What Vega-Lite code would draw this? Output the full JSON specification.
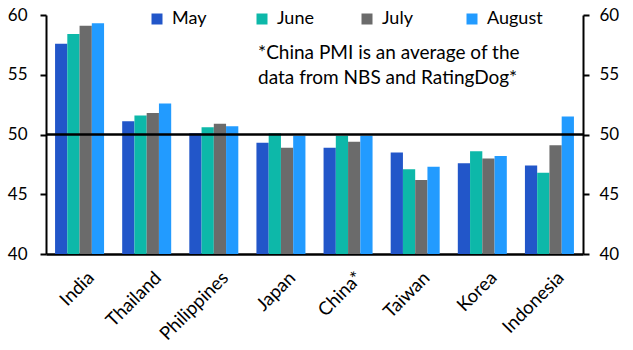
{
  "$schema": "https://vega.github.io/schema/vega-lite/v6.json",
  "width": 537,
  "height": 239,
  "autosize": {"type": "none"},
  "padding": {"left": 46, "top": 15, "right": 50, "bottom": 96},
  "background": "white",
  "config": {
    "font": "Lato",
    "view": {"stroke": null},
    "axis": {"labelFont": "Lato", "labelFontSize": 17, "labelColor": "black", "domainColor": "black", "tickColor": "black", "grid": false, "title": null}
  },
  "datasets": {
    "pmi": [
      {"country": "India", "month": "May", "value": 57.6},
      {"country": "India", "month": "June", "value": 58.4},
      {"country": "India", "month": "July", "value": 59.1},
      {"country": "India", "month": "August", "value": 59.3},
      {"country": "Thailand", "month": "May", "value": 51.1},
      {"country": "Thailand", "month": "June", "value": 51.6},
      {"country": "Thailand", "month": "July", "value": 51.8},
      {"country": "Thailand", "month": "August", "value": 52.6},
      {"country": "Philippines", "month": "May", "value": 50.1},
      {"country": "Philippines", "month": "June", "value": 50.6},
      {"country": "Philippines", "month": "July", "value": 50.9},
      {"country": "Philippines", "month": "August", "value": 50.7},
      {"country": "Japan", "month": "May", "value": 49.3},
      {"country": "Japan", "month": "June", "value": 50.1},
      {"country": "Japan", "month": "July", "value": 48.9},
      {"country": "Japan", "month": "August", "value": 49.9},
      {"country": "China*", "month": "May", "value": 48.9},
      {"country": "China*", "month": "June", "value": 49.9},
      {"country": "China*", "month": "July", "value": 49.4},
      {"country": "China*", "month": "August", "value": 49.9},
      {"country": "Taiwan", "month": "May", "value": 48.5},
      {"country": "Taiwan", "month": "June", "value": 47.1},
      {"country": "Taiwan", "month": "July", "value": 46.2},
      {"country": "Taiwan", "month": "August", "value": 47.3},
      {"country": "Korea", "month": "May", "value": 47.6},
      {"country": "Korea", "month": "June", "value": 48.6},
      {"country": "Korea", "month": "July", "value": 48.0},
      {"country": "Korea", "month": "August", "value": 48.2},
      {"country": "Indonesia", "month": "May", "value": 47.4},
      {"country": "Indonesia", "month": "June", "value": 46.8},
      {"country": "Indonesia", "month": "July", "value": 49.1},
      {"country": "Indonesia", "month": "August", "value": 51.5}
    ]
  },
  "resolve": {"axis": {"y": "independent"}},
  "layer": [
    {
      "data": {"name": "pmi"},
      "mark": {"type": "bar", "clip": true},
      "encoding": {
        "x": {
          "field": "country", "type": "nominal", "sort": null,
          "scale": {"paddingInner": 0.27, "paddingOuter": 0.135},
          "axis": {"labelAngle": -45, "ticks": false, "domainWidth": 2.5, "labelPadding": 14, "labelFontSize": 18.5, "labelOffset": 5}
        },
        "xOffset": {"field": "month", "type": "nominal", "sort": ["May", "June", "July", "August"], "scale": {"paddingInner": 0, "paddingOuter": 0}},
        "y": {
          "field": "value", "type": "quantitative",
          "scale": {"domain": [40, 60], "zero": false, "nice": false},
          "axis": {"orient": "left", "values": [40, 45, 50, 55, 60], "domainWidth": 2, "tickWidth": 2, "tickSize": 6, "labelPadding": 13}
        },
        "y2": {"datum": 40},
        "color": {
          "field": "month", "type": "nominal", "sort": ["May", "June", "July", "August"],
          "scale": {"domain": ["May", "June", "July", "August"], "range": ["#2256C9", "#0DB8A9", "#6B6B6B", "#229BFF"]},
          "legend": {
            "title": null, "orient": "none", "legendX": 102, "legendY": -5,
            "direction": "horizontal", "columns": 4, "gridAlign": "all", "columnPadding": 25,
            "symbolType": "square", "symbolSize": 121, "symbolStrokeWidth": 0,
            "labelFontSize": 18, "labelFont": "Lato", "labelColor": "black", "labelOffset": 6
          }
        }
      }
    },
    {
      "data": {"values": [{"v": 50}]},
      "mark": {"type": "rule", "color": "black", "strokeWidth": 2.5},
      "encoding": {
        "y": {
          "field": "v", "type": "quantitative",
          "scale": {"domain": [40, 60], "zero": false, "nice": false},
          "axis": {"orient": "right", "values": [40, 45, 50, 55, 60], "domainWidth": 2, "tickWidth": 2, "tickSize": 6, "labelPadding": 10}
        }
      }
    },
    {
      "data": {"values": [{"note": ["*China PMI is an average of the", "data from NBS and RatingDog*"]}]},
      "mark": {"type": "text", "align": "left", "baseline": "middle", "fontSize": 19, "font": "Lato", "color": "black", "lineHeight": 25, "dx": -90},
      "encoding": {
        "text": {"field": "note"},
        "x": {"datum": "China*", "type": "nominal"},
        "y": {"datum": 56.8, "type": "quantitative", "axis": null}
      }
    }
  ]
}
